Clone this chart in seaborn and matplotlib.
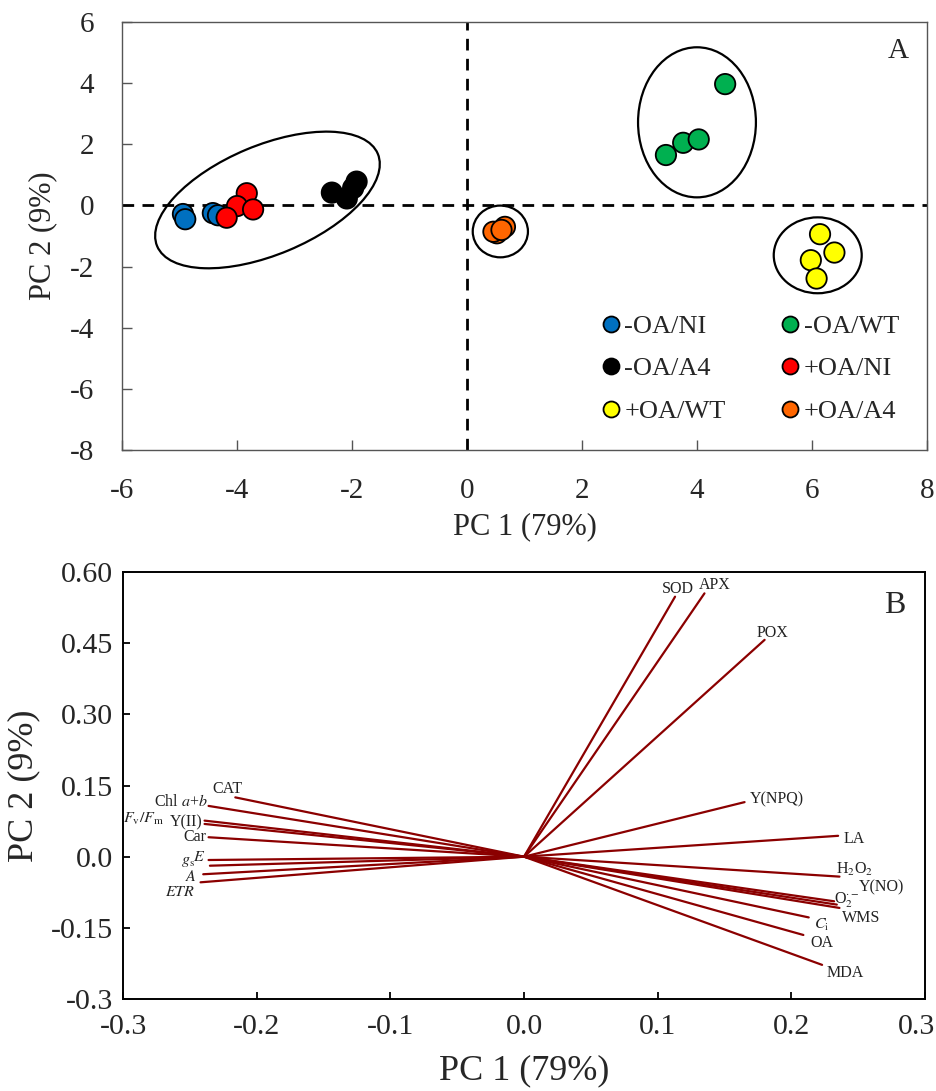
import numpy as np
import pandas as pd
import matplotlib
matplotlib.use("Agg")
import matplotlib.pyplot as plt
from matplotlib.patches import Ellipse
from matplotlib.lines import Line2D
from matplotlib.transforms import Affine2D, ScaledTranslation
from matplotlib.ticker import FixedLocator, FixedFormatter
import seaborn as sns

# ---------------- data: panel A (scores) ----------------
groups = ['-OA/NI', '-OA/WT', '-OA/A4', '+OA/NI', '+OA/WT', '+OA/A4']
ni_pc1 = [-4.94, -4.90, -4.42, -4.33]
ni_pc2 = [-0.28, -0.45, -0.25, -0.32]
wt_pc1 = [4.49, 3.46, 3.76, 4.03]
wt_pc2 = [3.97, 1.65, 2.05, 2.16]
a4_pc1 = [-2.35, -2.09, -1.92, -1.98]
a4_pc2 = [0.42, 0.23, 0.78, 0.57]
oa_ni_pc1 = [-3.83, -4.00, -4.18, -3.72]
oa_ni_pc2 = [0.40, -0.02, -0.40, -0.13]
oa_wt_pc1 = [6.14, 6.39, 5.98, 6.08]
oa_wt_pc2 = [-0.94, -1.54, -1.79, -2.39]
oa_a4_pc1 = [0.52, 0.66, 0.46, 0.60]
oa_a4_pc2 = [-0.91, -0.70, -0.86, -0.80]

score_pc1 = [ni_pc1, wt_pc1, a4_pc1, oa_ni_pc1, oa_wt_pc1, oa_a4_pc1]
score_pc2 = [ni_pc2, wt_pc2, a4_pc2, oa_ni_pc2, oa_wt_pc2, oa_a4_pc2]

# cluster ellipses: center (data), width/height in x-units of visual length, angle
ell_center_x = [-3.47, 4.00, 0.58, 6.10]
ell_center_y = [0.18, 2.72, -0.85, -1.63]
ell_width = [4.16, 2.05, 0.96, 1.53]
ell_height = [1.90, 2.61, 0.90, 1.32]
ell_angle = [22.7, 0.0, 0.0, 0.0]

# ---------------- data: panel B (loadings) ----------------
var_names = ['SOD', 'APX', 'POX', 'Y(NPQ)', 'LA', 'H$_2$O$_2$', 'Y(NO)',
             'O$_2^{\\cdot-}$', 'WMS', '$C_\\mathrm{i}$', 'OA', 'MDA',
             'CAT', 'Chl $a$+$b$', '$F_\\mathrm{v}/F_\\mathrm{m}$', 'Y(II)', 'Car',
             '$E$', '$g_\\mathrm{s}$', '$A$', '$ETR$']
load_pc1 = [0.113, 0.135, 0.180, 0.165, 0.235, 0.236, 0.232,
            0.234, 0.236, 0.213, 0.209, 0.223,
            -0.216, -0.236, -0.239, -0.239, -0.236,
            -0.236, -0.235, -0.240, -0.242]
load_pc2 = [0.548, 0.555, 0.457, 0.115, 0.044, -0.042, -0.094,
            -0.101, -0.108, -0.128, -0.165, -0.228,
            0.125, 0.107, 0.076, 0.069, 0.041,
            -0.007, -0.019, -0.037, -0.054]

# label placement (offset pixels from arrow tip, alignment) -- layout only
lab_dx = [3, 10, 8, 32, 16, 15, 47, 10, 22, 13, 19, 23,
          -8, -1, -40, -2, -2, -3, -15, -6, -5]
lab_dy = [8, 8, 7, 3, -3, 7, 14, 4, -10, -8, -8, -8,
          8, 4, 2, 2, 0, 3, 5, -3, -10]
lab_ha = ['center'] * 12 + ['center'] + ['right'] * 8

a_xticks = [-6, -4, -2, 0, 2, 4, 6, 8]
a_yticks = [-8, -6, -4, -2, 0, 2, 4, 6]
b_xticks = [-0.3, -0.2, -0.1, 0.0, 0.1, 0.2, 0.3]
b_xticklabels = ['-0.3', '-0.2', '-0.1', '0.0', '0.1', '0.2', '0.3']
b_yticks = [-0.3, -0.15, 0.0, 0.15, 0.30, 0.45, 0.60]
b_yticklabels = ['-0.3', '-0.15', '0.0', '0.15', '0.30', '0.45', '0.60']

colors = {'-OA/NI': '#0070C0', '-OA/WT': '#00B050', '-OA/A4': '#000000',
          '+OA/NI': '#FF0000', '+OA/WT': '#FFFF00', '+OA/A4': '#FF6600'}

# ---------------- style ----------------
sns.set_theme(style='white')
plt.rcParams['font.family'] = ['Liberation Serif', 'DejaVu Serif']
plt.rcParams['mathtext.fontset'] = 'stix'
plt.rcParams['axes.unicode_minus'] = False

FW, FH = 9.37, 10.91
fig = plt.figure(figsize=(FW, FH), dpi=100)
axA = fig.add_axes([0.1302, 0.5875, 0.8591, 0.3923])
axB = fig.add_axes([0.1313, 0.0843, 0.8559, 0.3914])

# ---------------- panel A ----------------
rows = []
for g, xs, ys in zip(groups, score_pc1, score_pc2):
    for x, y in zip(xs, ys):
        rows.append({'group': g, 'PC1': x, 'PC2': y})
df = pd.DataFrame(rows)

axA.set_xlim(-6, 8)
axA.set_ylim(-8, 6)
axA.axvline(0, color='black', lw=2.0, ls=(0, (4.2, 3.0)), zorder=1)
axA.axhline(0, color='black', lw=2.0, ls=(0, (4.2, 3.0)), zorder=1)

sns.scatterplot(data=df, x='PC1', y='PC2', hue='group', palette=colors,
                hue_order=groups, s=215, edgecolor='black', linewidth=1.3,
                legend=False, ax=axA, zorder=3)

bb = axA.get_position()
r = ((6 - (-8)) / (bb.height * FH)) / ((8 - (-6)) / (bb.width * FW))
for cx, cy, w, h, ang in zip(ell_center_x, ell_center_y, ell_width, ell_height, ell_angle):
    e = Ellipse((0, 0), w, h, angle=ang, fill=False, edgecolor='black', lw=1.6,
                transform=Affine2D().scale(1, r).translate(cx, cy) + axA.transData,
                zorder=2)
    axA.add_patch(e)

axA.xaxis.set_major_locator(FixedLocator(a_xticks))
axA.yaxis.set_major_locator(FixedLocator(a_yticks))
axA.xaxis.set_major_formatter(FixedFormatter([str(t) for t in a_xticks]))
axA.yaxis.set_major_formatter(FixedFormatter([str(t) for t in a_yticks]))
axA.tick_params(direction='in', length=7, width=1.0, color='#555555',
                labelsize=21, left=True, bottom=True, pad=20)
for s in axA.spines.values():
    s.set_color('#555555')
    s.set_linewidth(1.0)
axA.set_xlabel('PC 1 (79%)', fontsize=22, labelpad=6)
axA.set_ylabel('PC 2 (9%)', fontsize=22, labelpad=9)
axA.text(0.977, 0.962, 'A', transform=axA.transAxes, ha='right', va='top', fontsize=21)

order = ['-OA/NI', '-OA/A4', '+OA/WT', '-OA/WT', '+OA/NI', '+OA/A4']
handles = [Line2D([], [], marker='o', ls='none', markersize=11.5,
                  markerfacecolor=colors[g], markeredgecolor='black',
                  markeredgewidth=1.3, label=g) for g in order]
axA.legend(handles=handles, ncol=2, loc='center', bbox_to_anchor=(0.779, 0.19),
           frameon=False, fontsize=19, handletextpad=0.05, columnspacing=2.0,
           labelspacing=0.72, handlelength=0.9)

# ---------------- panel B ----------------
axB.set_xlim(-0.3, 0.3)
axB.set_ylim(-0.3, 0.6)
ldf = pd.DataFrame({'var': var_names, 'PC1': load_pc1, 'PC2': load_pc2})
for i, row in ldf.iterrows():
    seg = pd.DataFrame({'x': [0.0, row['PC1']], 'y': [0.0, row['PC2']]})
    sns.lineplot(data=seg, x='x', y='y', color='#8B0000', lw=1.6, ax=axB,
                 sort=False, estimator=None)
    axB.annotate(row['var'], (row['PC1'], row['PC2']),
                 xytext=(lab_dx[i], lab_dy[i]), textcoords='offset pixels',
                 ha=lab_ha[i], va='center', fontsize=11.5, color='#222222')

axB.xaxis.set_major_locator(FixedLocator(b_xticks))
axB.yaxis.set_major_locator(FixedLocator(b_yticks))
axB.xaxis.set_major_formatter(FixedFormatter(b_xticklabels))
axB.yaxis.set_major_formatter(FixedFormatter(b_yticklabels))
axB.tick_params(direction='in', length=5, width=1.3, color='black',
                labelsize=21.5, left=True, bottom=True, pad=7)
axB.tick_params(axis='x', pad=11)
for s in axB.spines.values():
    s.set_color('black')
    s.set_linewidth(1.4)
axB.set_xlabel('PC 1 (79%)', fontsize=26, labelpad=10)
axB.set_ylabel('PC 2 (9%)', fontsize=26, labelpad=8)
axB.text(0.975, 0.955, 'B', transform=axB.transAxes, ha='right', va='top', fontsize=23)

# nudge the last x tick label inside the figure (as in the reference)
fig.canvas.draw()
last = axB.get_xticklabels()[-1]
last.set_transform(last.get_transform() + ScaledTranslation(-0.09, 0, fig.dpi_scale_trans))

fig.savefig('out.png', dpi=100)
